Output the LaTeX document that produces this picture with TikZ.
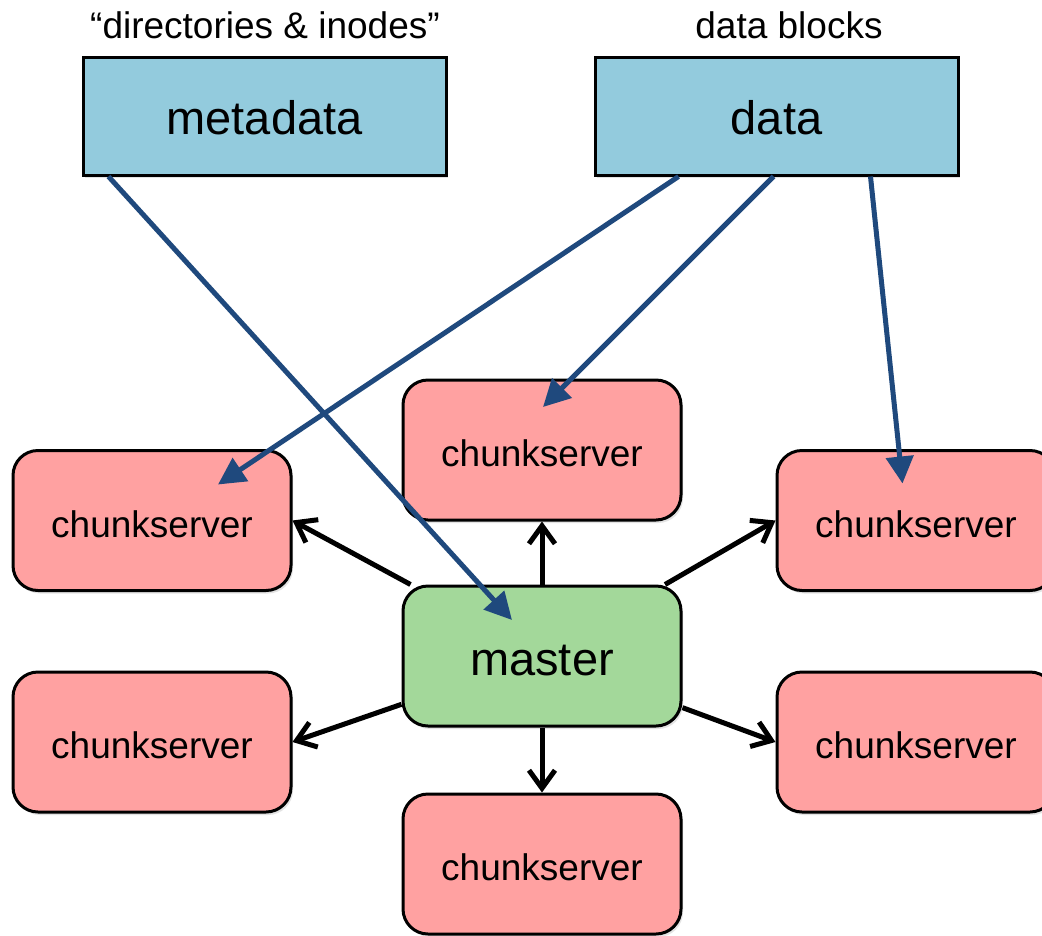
\documentclass[tikz,border=0pt]{standalone}
\usepackage{fontspec}
\setmainfont{Liberation Sans}
\usetikzlibrary{arrows.meta,shadows,calc}
\definecolor{metafill}{RGB}{147,203,221}
\definecolor{chunkfill}{RGB}{255,161,161}
\definecolor{masterfill}{RGB}{163,216,154}
\definecolor{linkblue}{RGB}{31,73,125}
\tikzset{
  boxbase/.style={draw=black, line width=3pt, minimum width=278pt, minimum height=140pt,
    drop shadow={opacity=0.22, shadow xshift=2pt, shadow yshift=-3pt}},
  storebox/.style={boxbase, fill=metafill, minimum width=363pt, minimum height=118pt,
    font=\fontsize{47}{56}\selectfont, text height=37pt, text depth=0pt},
  chunkbox/.style={boxbase, rounded corners=25pt, fill=chunkfill, font=\fontsize{37}{44}\selectfont,
    text height=33pt, text depth=0pt},
  masterbox/.style={boxbase, rounded corners=25pt, fill=masterfill, font=\fontsize{47}{56}\selectfont,
    text height=39pt, text depth=0pt},
  ctrl/.style={line width=5pt, draw=black, -{Straight Barb[length=18pt,width=26pt]}},
  flow/.style={line width=5pt, draw=linkblue, -{Triangle[length=27pt,width=27pt]}},
  caption/.style={font=\fontsize{37}{44}\selectfont, anchor=base}
}
\begin{document}
\begin{tikzpicture}[x=1pt, y=-1pt]
  \fill[white] (0,0) rectangle (1042,935);
  \useasboundingbox (0,0) rectangle (1042,935);

  % storage kinds
  \node[caption] (metacap) at (265,38) {“directories \& inodes”};
  \node[caption] (datacap) at (789,38) {data blocks};
  \node[storebox] (meta) at (264.5,116) {metadata};
  \node[storebox] (data) at (776.5,116) {data};

  % master and its chunkservers
  \node[masterbox] (master) at (542,656) {master};
  \node[chunkbox] (cstop) at (542,450) {chunkserver};
  \node[chunkbox] (cslu) at (152,520.5) {chunkserver};
  \node[chunkbox] (csru) at (916,520.5) {chunkserver};
  \node[chunkbox] (csll) at (152,742) {chunkserver};
  \node[chunkbox] (csrl) at (916,742) {chunkserver};
  \node[chunkbox] (csbot) at (542,864) {chunkserver};

  % control links from the master
  \draw[ctrl] (master.north) -- (cstop.south);
  \draw[ctrl] (master) -- (cslu.east);
  \draw[ctrl] (master) -- (csru.west);
  \draw[ctrl] (master) -- (csll.east);
  \draw[ctrl] (master) -- (csrl.west);
  \draw[ctrl] (master.south) -- (csbot.north);

  % where each kind of content lives
  \draw[flow] ($(meta.south west)+(27,0)$) -- ($(master.center)+(-30,-36)$);
  \draw[flow] ($(data.south west)+(85,0)$) -- ($(cslu.center)+(66,-36)$);
  \draw[flow] ($(data.south west)+(180,0)$) -- ($(cstop.center)+(1,-43)$);
  \draw[flow] ($(data.south west)+(277,0)$) -- ($(csru.west)+(127,-37)$);
\end{tikzpicture}
\end{document}
